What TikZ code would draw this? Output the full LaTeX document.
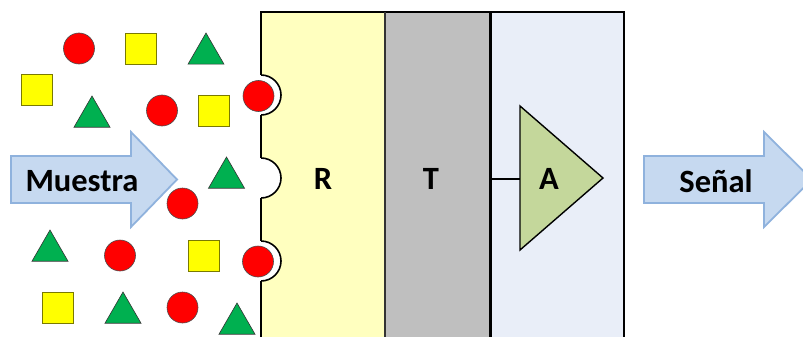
\documentclass[tikz,border=0pt]{standalone}
\usepackage{fontspec}
\setmainfont{Carlito}
\usetikzlibrary{shapes.geometric}
\definecolor{ballred}{HTML}{FF0000}
\definecolor{sqyellow}{HTML}{FFFF00}
\definecolor{sqedge}{HTML}{7A7A00}
\definecolor{trigreen}{HTML}{00B050}
\definecolor{panelY}{HTML}{FFFFBF}
\definecolor{panelG}{HTML}{BFBFBF}
\definecolor{panelB}{HTML}{E9EEF8}
\definecolor{ampgreen}{HTML}{C4D79B}
\definecolor{arrfill}{HTML}{C6D9F0}
\definecolor{arredge}{HTML}{8FB2DD}
\begin{document}
\begin{tikzpicture}[x=1pt,y=-1pt,
  redball/.style={circle,fill=ballred,draw=black!70,line width=0.6pt,minimum size=31pt,inner sep=0pt},
  ysq/.style={rectangle,fill=sqyellow,draw=sqedge,line width=0.8pt,minimum size=31pt,inner sep=0pt},
  gtri/.style={regular polygon,regular polygon sides=3,fill=trigreen,draw=black!80,line width=0.6pt,minimum size=41.6pt,inner sep=0pt},
  border/.style={draw=black,line width=1.6pt},
  bigarrow/.style={fill=arrfill,draw=arredge,line width=1.8pt,line join=miter},
  lbl/.style={font=\fontsize{32.5}{34}\selectfont\bfseries,inner sep=0pt}]
\useasboundingbox (0,0) rectangle (803,337);
\clip (0,0) rectangle (803,337);
% panels
\fill[panelY] (261,12) rectangle (385,345);
\fill[panelG] (385,12) rectangle (490,345);
\fill[panelB] (490,12) rectangle (624,345);
% notches
\begin{scope}
  \clip (261,0) rectangle (320,345);
  \foreach \yy in {95,178,261} \draw[border,fill=white] (261,\yy) circle (20pt);
\end{scope}
% borders
\draw[border] (261,75) -- (261,12) -- (624,12) -- (624,345);
\draw[border] (261,115) -- (261,158);
\draw[border] (261,198) -- (261,241);
\draw[border] (261,281) -- (261,345);
\draw[draw=black!80,line width=1.4pt] (385,12) -- (385,345);
\draw[draw=black,line width=3pt] (490,12) -- (490,345);
% amplifier
\coordinate (tOut) at (490,179);
\coordinate (aIn) at (520,179);
\draw[fill=ampgreen,draw=black,line width=1.4pt,line join=miter] (520,106) -- (603,178) -- (520,250) -- cycle;
\draw[line width=1.6pt] (tOut) -- (aIn);
\node[lbl] (lR) at (323,179) {R};
\node[lbl] (lT) at (431,179) {T};
\node[lbl] (lA) at (549,179) {A};
% arrows
\draw[bigarrow] (11,156) -- (131,156) -- (131,132) -- (177,179.5) -- (131,227) -- (131,203) -- (11,203) -- cycle;
\node[lbl] (lM) at (82,181) {Muestra};
\draw[bigarrow] (644,156) -- (764,156) -- (764,132) -- (812,179.5) -- (764,227) -- (764,203) -- (644,203) -- cycle;
\node[lbl] (lS) at (716,181) {Señal};
% sample particles
\node[redball] (c1) at (79,48.5) {};
\node[redball] (c2) at (162,110.5) {};
\node[redball] (c3) at (182.5,203.5) {};
\node[redball] (c4) at (120,255.5) {};
\node[redball] (c5) at (182.5,307.5) {};
\node[redball] (c6) at (258.5,96) {};
\node[redball] (c7) at (258,261.5) {};
\node[ysq] (s1) at (141,48.5) {};
\node[ysq] (s2) at (37,90) {};
\node[ysq] (s3) at (214,110.5) {};
\node[ysq] (s4) at (203.5,255.5) {};
\node[ysq] (s5) at (58,307.5) {};
\node[gtri] (t1) at (206,53.8) {};
\node[gtri] (t2) at (92,116.8) {};
\node[gtri] (t3) at (226.5,177.8) {};
\node[gtri] (t4) at (50,250.8) {};
\node[gtri] (t5) at (123,312.8) {};
\node[gtri] (t6) at (237,323.8) {};
\end{tikzpicture}
\end{document}
